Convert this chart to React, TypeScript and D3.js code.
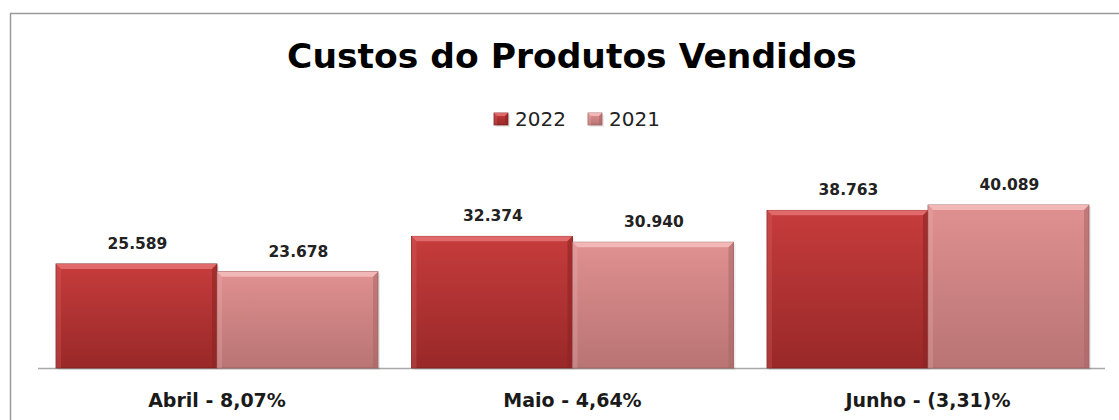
import React from 'react';
import * as d3 from 'd3';

const categories = ['Abril - 8,07%', 'Maio - 4,64%', 'Junho - (3,31)%'];
const seriesNames = ['2022', '2021'];
const values2022 = [25589, 32374, 38763];
const values2021 = [23678, 30940, 40089];
const valueLabels2022 = ['25.589', '32.374', '38.763'];
const valueLabels2021 = ['23.678', '30.940', '40.089'];

const W = 1119;
const H = 420;
const FONT = 'DejaVu Sans, Verdana, sans-serif';

const palettes = [
  { top: '#c63c3c', bottom: '#992828', hi: '#e06a6a', side: '#8a2222', edge: '#7a1e1e' },
  { top: '#e09090', bottom: '#b97474', hi: '#f2b8b8', side: '#a86666', edge: '#9a5e5e' },
];

const Bar = ({ x, y, w, h, pal, id, b = 5 }: any) => {
  return (
    <g>
      <rect x={x + 2} y={y + 2} width={w} height={h} fill="#000" opacity={0.08} />
      <rect x={x} y={y} width={w} height={h} fill={`url(#g${id})`} stroke={pal.edge} strokeWidth={0.8} />
      <polygon points={`${x},${y} ${x + w},${y} ${x + w - b},${y + b} ${x + b},${y + b}`} fill={pal.hi} />
      <polygon points={`${x + w},${y} ${x + w},${y + h} ${x + w - b},${y + h} ${x + w - b},${y + b}`} fill={pal.side} opacity={0.55} />
      <polygon points={`${x},${y} ${x + b},${y + b} ${x + b},${y + h} ${x},${y + h}`} fill={pal.hi} opacity={0.25} />
    </g>
  );
};

export default function App() {
  const x = d3.scaleBand<string>().domain(categories).range([56, 1089]).paddingInner(0.0942).paddingOuter(0);
  const xs = d3.scaleBand<string>().domain(seriesNames).range([0, x.bandwidth()]);
  const y = d3.scaleLinear().domain([0, 45000]).range([368, 185]);
  const series = [values2022, values2021];
  const labels = [valueLabels2022, valueLabels2021];
  const [r0, r1] = x.range();

  return (
    <svg width={W} height={H} style={{ position: 'absolute', left: 0, top: 0, background: '#fff' }}>
      <defs>
        {palettes.map((p, i) => (
          <linearGradient key={i} id={`g${i}`} x1="0" y1="0" x2="0" y2="1">
            <stop offset="0" stopColor={p.top} />
            <stop offset="1" stopColor={p.bottom} />
          </linearGradient>
        ))}
      </defs>
      <rect x={10.5} y={13.5} width={W + 20} height={H + 20} fill="none" stroke="#9a9a9a" strokeWidth={1.5} />

      <text x={572} y={68} textAnchor="middle" fontFamily={FONT} fontWeight="bold" fontSize={34.5} fill="#000">
        Custos do Produtos Vendidos
      </text>

      {seriesNames.map((s, i) => {
        const lx = 494 + i * 94;
        return (
          <g key={s}>
            <Bar x={lx} y={113} w={14} h={12} pal={palettes[i]} id={i} b={3} />
            <text x={lx + 21} y={126} fontFamily={FONT} fontSize={20} fill="#222">{s}</text>
          </g>
        );
      })}

      <line x1={r0 - 18} x2={r1 + 16} y1={y(0) + 0.5} y2={y(0) + 0.5} stroke="#a8a8a8" strokeWidth={1.5} />

      {categories.map((c, ci) => (
        <g key={c}>
          {seriesNames.map((s, si) => {
            const v = series[si][ci];
            const bx = (x(c) as number) + (xs(s) as number);
            const by = y(v);
            return (
              <g key={s}>
                <Bar x={bx} y={by} w={xs.bandwidth()} h={y(0) - by} pal={palettes[si]} id={si} />
                <text x={bx + xs.bandwidth() / 2 + 1} y={by - 15} textAnchor="middle" fontFamily={FONT} fontWeight="bold" fontSize={15.5} fill="#222">
                  {labels[si][ci]}
                </text>
              </g>
            );
          })}
          <text x={(x(c) as number) + x.bandwidth() / 2} y={407} textAnchor="middle" fontFamily={FONT} fontWeight="bold" fontSize={19} fill="#1a1a1a">
            {c}
          </text>
        </g>
      ))}
    </svg>
  );
}
